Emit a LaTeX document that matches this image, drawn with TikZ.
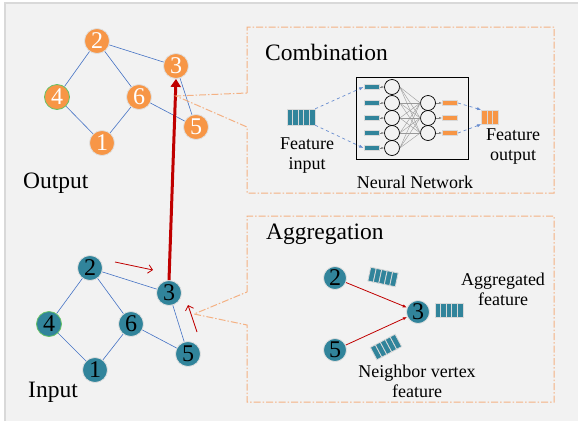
\documentclass[tikz,border=0pt]{standalone}
\usepackage{fontspec}
\setmainfont{Liberation Serif}
\usetikzlibrary{arrows.meta}
\definecolor{gOrange}{HTML}{F79646}
\definecolor{gTeal}{HTML}{31849B}
\definecolor{gBlue}{HTML}{4472C4}
\definecolor{gRed}{HTML}{C00000}
\definecolor{gBack}{HTML}{F2F2F2}
\definecolor{gDash}{HTML}{F4B183}
\tikzset{
	pics/featbar/.style n args={3}{code={
		\foreach \k in {1,...,#1}
			\filldraw[fill=#2, draw=gray!30, line width=0.8pt] ({(\k-1-#1/2)*5.6},{-#3/2}) rectangle ++(5.6,#3);
	}}
}
\begin{document}
\begin{tikzpicture}[x=1pt, y=-1pt, >={Latex[length=2.2mm]},
	every node/.style={font=\fontsize{18}{20}\selectfont, inner sep=0pt},
	vout/.style={circle, fill=gOrange, draw=gray!25, line width=0.8pt, minimum size=25pt, text=white, font=\fontsize{24}{24}\selectfont},
	vin/.style={vout, fill=gTeal, text=black},
	gedge/.style={gBlue, line width=0.6pt},
	callout/.style={gDash, line width=1pt, dash pattern=on 7pt off 2pt on 1.5pt off 2pt},
	title/.style={font=\fontsize{23.5}{24}\selectfont, anchor=west},
	nnode/.style={circle, draw=black, line width=0.7pt, minimum size=15pt},
	tbar/.style={rectangle, fill=gTeal, draw=gray!30, line width=1pt, minimum width=15pt, minimum height=5pt},
	obar/.style={tbar, fill=gOrange},
	bluedash/.style={->, >={Latex[length=1.5mm]}, gBlue!80, dashed, line width=0.7pt}]
	\useasboundingbox (0,0) rectangle (578,421);
	\fill[white] (0,0) rectangle (578,421);
	\fill[gBack] (5,3) rectangle (578,421);
	\draw[gray!30, line width=1.5pt] (5,421) -- (5,3) -- (578,3);

	% output graph
	\node[vout] (o2) at (97,41) {2};
	\node[vout] (o3) at (176,66) {3};
	\node[vout, draw=green!60!black!60] (o4) at (57,97) {4};
	\node[vout] (o6) at (139,97) {6};
	\node[vout] (o5) at (196,127) {5};
	\node[vout] (o1) at (102,143) {1};
	\draw[gedge] (o2) -- (o4) (o2) -- (o6) (o2) -- (o3) (o4) -- (o1) (o6) -- (o1) (o6) -- (o5) (o3) -- (o5);
	\node[title] at (23,183) {Output};

	% input graph
	\node[vin] (i2) at (90,268) {2};
	\node[vin] (i3) at (169,293) {3};
	\node[vin, draw=green!60!black!60] (i4) at (49,324) {4};
	\node[vin] (i6) at (131,324) {6};
	\node[vin] (i5) at (188,354) {5};
	\node[vin] (i1) at (95,370) {1};
	\draw[gedge] (i2) -- (i4) (i2) -- (i6) (i2) -- (i3) (i4) -- (i1) (i6) -- (i1) (i6) -- (i5) (i3) -- (i5);
	\node[title] at (28,392) {Input};

	\coordinate (r1s) at (115,262);
	\coordinate (r1e) at (153,270);
	\coordinate (r2s) at (197,332);
	\coordinate (r2e) at (188,305);
	\draw[->, gRed, line width=0.8pt, >={Straight Barb[length=1.5mm]}] (r1s) -- (r1e);
	\draw[->, gRed, line width=0.8pt, >={Straight Barb[length=1.5mm]}] (r2s) -- (r2e);
	\draw[-{Triangle[length=8pt,width=10pt]}, gRed, line width=3pt] (i3.north) -- (o3.south);

	% combination
	\draw[callout] (247,93) -- (247,27) -- (554,27) -- (554,193) -- (247,193) -- (247,127) -- (176,96) -- cycle;
	\node[title] at (265,52) {Combination};
	\draw[line width=0.8pt] (356,77) rectangle (468,159);
	\foreach \y [count=\i] in {87,103,118,133,148} {
		\node[tbar] (b\i) at (371.5,\y) {};
		\node[nnode] (n\i) at (392,\y) {};
		\draw[->, gray, >={Latex[length=1mm]}] (b\i.east) -- (n\i.west);
	}
	\foreach \y [count=\j] in {103,118,133} {
		\node[nnode] (m\j) at (428,\y) {};
		\node[obar] (ob\j) at (450,\y) {};
		\draw[->, gray, >={Latex[length=1mm]}] (m\j.east) -- (ob\j.west);
	}
	\foreach \i in {1,...,5}
		\foreach \j in {1,2,3}
			\draw[gray!80, line width=0.4pt] (n\i.east) -- (m\j.west);
	\node[minimum width=28pt, minimum height=16pt] (fin) at (301,117) {};
	\pic at (fin) {featbar={5}{gTeal}{16}};
	\node[minimum width=17pt, minimum height=14pt] (fout) at (490,117) {};
	\pic at (fout) {featbar={3}{gOrange}{14}};
	\draw[bluedash] (fin.north east) -- (b1.west);
	\draw[bluedash] (fin.south east) -- (b5.west);
	\draw[bluedash] (ob1.east) -- (fout.north west);
	\draw[bluedash] (ob3.east) -- (fout.south west);
	\node[align=center] at (307,156) {Feature\\input};
	\node[align=center] at (513,147) {Feature\\output};
	\node at (415,182) {Neural Network};

	% aggregation
	\draw[callout] (247,292) -- (247,216) -- (554,216) -- (554,402) -- (247,402) -- (247,325) -- (194,314) -- cycle;
	\node[title] at (266,234) {Aggregation};
	\node[vin, minimum size=23pt] (a2) at (335,278) {2};
	\node[vin, minimum size=23pt] (a3) at (418,312) {3};
	\node[vin, minimum size=23pt] (a5) at (335,350) {5};
	\draw[->, gRed, line width=0.8pt, >={Latex[length=1.5mm]}] (a2) -- (a3);
	\draw[->, gRed, line width=0.8pt, >={Latex[length=1.5mm]}] (a5) -- (a3);
	\pic[rotate=-12] at (383,277) {featbar={5}{gTeal}{14}};
	\pic at (449,310) {featbar={5}{gTeal}{14}};
	\pic[rotate=28] at (386,347) {featbar={5}{gTeal}{14}};
	\node[align=center] at (503,289) {Aggregated\\feature};
	\node[align=center] at (417,381) {Neighbor vertex\\feature};
\end{tikzpicture}
\end{document}
